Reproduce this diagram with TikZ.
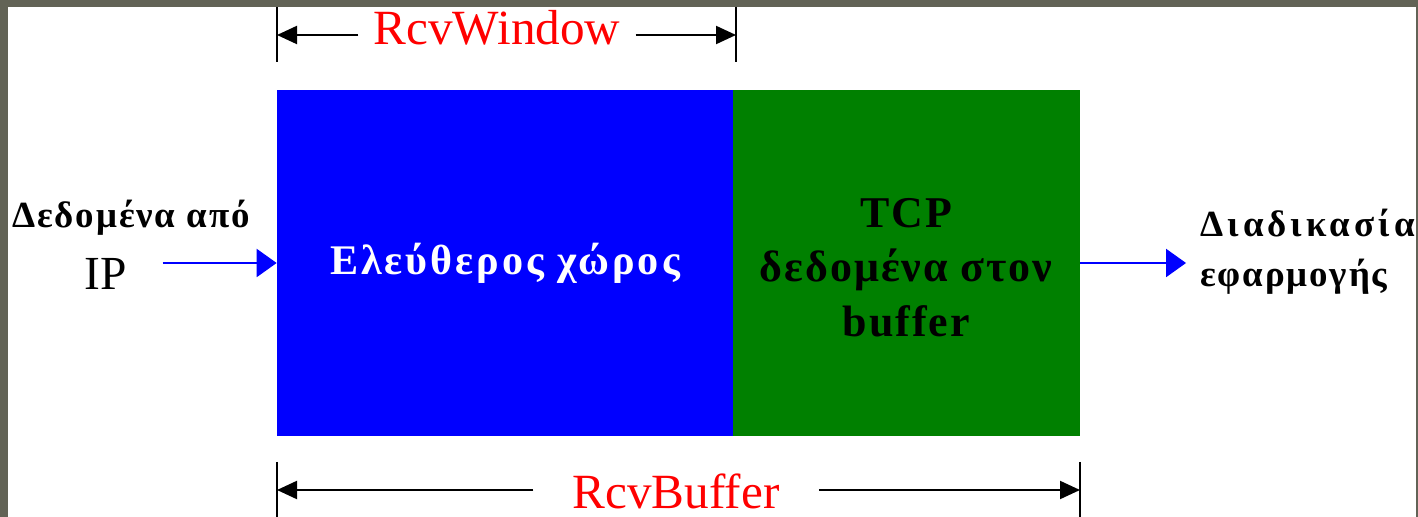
\documentclass[tikz,border=0pt]{standalone}
\usepackage{fontspec}
\setmainfont{Liberation Serif}
\usetikzlibrary{arrows.meta,positioning}
\definecolor{slide}{RGB}{98,99,86}
\definecolor{freeblue}{RGB}{0,0,255}
\definecolor{tcpgreen}{RGB}{0,128,0}

\begin{document}
\begin{tikzpicture}[box/.style={rectangle,inner sep=0pt,minimum height=6.92cm},flow/.style={draw=freeblue,line width=1.2pt,-{Triangle[length=0.4cm,width=0.56cm]}},dim/.style={line width=1.2pt,-{Triangle[length=0.4cm,width=0.36cm]}},tickline/.style={line width=1.2pt},dimlabel/.style={text=red,fill=white,inner ysep=0pt,font=\fontsize{28}{30}\selectfont},side/.style={inner sep=0pt,font=\bfseries\fontsize{21}{24}\selectfont\addfontfeatures{LetterSpace=#1}}]
	% slide frame and white sheet
	\fill[slide] (0,0) rectangle (28.36,-10.34);
	\fill[white] (0.16,-0.14) rectangle (28.32,-10.34);
	\useasboundingbox (0,0) rectangle (28.36,-10.34);

	% the receive buffer
	\node[box,fill=freeblue,minimum width=9.12cm,text=white,font=\bfseries\fontsize{24}{28}\selectfont\addfontfeatures{LetterSpace=7}] (free) at (10.10,-5.26) {Ελεύθερος χώρος};
	\node[box,fill=tcpgreen,minimum width=6.94cm] (tcp) [right=-0.02cm of free] {};
	\node[align=center,inner sep=0pt,font=\bfseries\fontsize{25}{31}\selectfont\addfontfeatures{LetterSpace=4.5}] (tcptext) at ([yshift=-0.09cm]tcp) {TCP\\δεδομένα στον\\buffer};

	% incoming and outgoing data
	\node[side=5,anchor=base] (ipdata) at (2.62,-4.56) {Δεδομένα από};
	\node[inner sep=0pt,anchor=base,font=\fontsize{27}{30}\selectfont] (ip) at (2.12,-5.8) {IP};
	\node[side=11,anchor=base west] (app1) at (24.0,-4.74) {Διαδικασία};
	\node[side=5,anchor=base west] (app2) at (24.0,-5.74) {εφαρμογής};
	\coordinate[left=2.28cm of free.west] (in);
	\coordinate[right=2.12cm of tcp.east] (out);
	\draw[flow] (in) -- (free.west);
	\draw[flow] (tcp.east) -- (out);

	% RcvWindow
	\coordinate (wl) at (5.54,-0.7);
	\coordinate (wr) at (14.72,-0.7);
	\draw[tickline] ([yshift=0.56cm]wl) -- ([yshift=-0.54cm]wl);
	\draw[tickline] ([yshift=0.56cm]wr) -- ([yshift=-0.54cm]wr);
	\node[dimlabel,inner xsep=0.3cm,anchor=base] (win) at (9.94,-0.9) {RcvWindow};
	\draw[dim] (win.west |- wl) -- (wl);
	\draw[dim] (win.east |- wr) -- (wr);

	% RcvBuffer
	\coordinate (bl) at (5.54,-9.8);
	\coordinate (br) at (21.6,-9.8);
	\draw[tickline] ([yshift=0.56cm]bl) -- ([yshift=-0.6cm]bl);
	\draw[tickline] ([yshift=0.56cm]br) -- ([yshift=-0.6cm]br);
	\node[dimlabel,inner xsep=0.78cm,anchor=base] (buf) at (13.52,-10.17) {RcvBuffer};
	\draw[dim] (buf.west |- bl) -- (bl);
	\draw[dim] (buf.east |- br) -- (br);

\end{tikzpicture}
\end{document}
